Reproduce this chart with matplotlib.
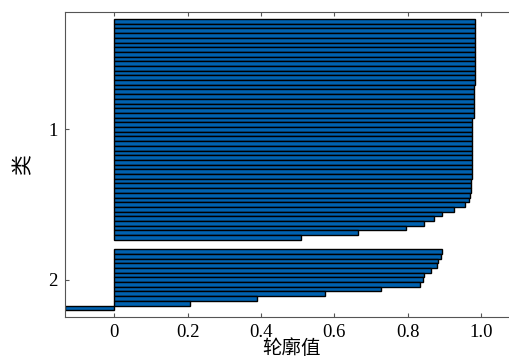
import matplotlib
matplotlib.use("Agg")
import matplotlib.pyplot as plt
import numpy as np

# silhouette values, sorted within each cluster
cluster1 = [0.984, 0.984, 0.983, 0.983, 0.983, 0.983, 0.983, 0.983, 0.983, 0.983,
            0.983, 0.983, 0.983, 0.983, 0.982, 0.982, 0.982, 0.982, 0.982, 0.982,
            0.982, 0.977, 0.977, 0.977, 0.977, 0.977, 0.977, 0.977, 0.977, 0.977,
            0.977, 0.977, 0.976, 0.976, 0.972, 0.972, 0.972, 0.971, 0.968, 0.956,
            0.926, 0.894, 0.873, 0.845, 0.795, 0.665, 0.508]
cluster2 = [0.895, 0.891, 0.882, 0.880, 0.863, 0.845, 0.841, 0.834, 0.728,
            0.575, 0.388, 0.206, -0.135]
cluster_names = ["1", "2"]
xticks = [0, 0.2, 0.4, 0.6, 0.8, 1.0]
xtick_labels = ["0", "0.2", "0.4", "0.6", "0.8", "1.0"]

# stack like matlab's silhouette(): blank rows between clusters
space = 2
bars = [np.nan] * space
tcks = []
for c in (cluster1, cluster2):
    bars += list(c) + [np.nan] * space
    tcks.append(len(bars))
tcks = np.array(tcks, dtype=float)
tcks = tcks - 0.5 * (np.diff(np.r_[space, tcks]) + space - 1)
bars = np.array(bars)
pos = np.arange(1, len(bars) + 1)

fig = plt.figure(figsize=(5.10, 3.62), dpi=100)
ax = fig.add_axes([0.1269, 0.1235, 0.888, 0.8434])
ax.patch.set_edgecolor("none")

ok = ~np.isnan(bars)
ax.barh(pos[ok], bars[ok], height=1.0, color="#0062B0",
        edgecolor="black", linewidth=1.0)

ax.set_xlim(-0.135, 1.1)
ax.set_ylim(len(bars), 1)
ax.set_yticks(tcks, cluster_names, family="Liberation Serif")
ax.set_xticks(xticks, xtick_labels, family="Liberation Serif")

ax.spines["right"].set_visible(False)
for name in ("left", "top", "bottom"):
    ax.spines[name].set_color("#555555")
ax.tick_params(axis="x", direction="in", length=3, color="#555555",
               top=True, labelsize=13.5, pad=5)
ax.tick_params(axis="y", direction="in", length=3, color="#555555",
               labelsize=13.5, pad=5)

ax.set_xlabel("轮廓值", fontsize=14, family=["Noto Sans CJK SC", "DejaVu Sans"],
              labelpad=-2)
ax.set_ylabel("类", fontsize=15, family=["Noto Sans CJK SC", "DejaVu Sans"],
              labelpad=10)

fig.savefig("out.png", dpi=100)
